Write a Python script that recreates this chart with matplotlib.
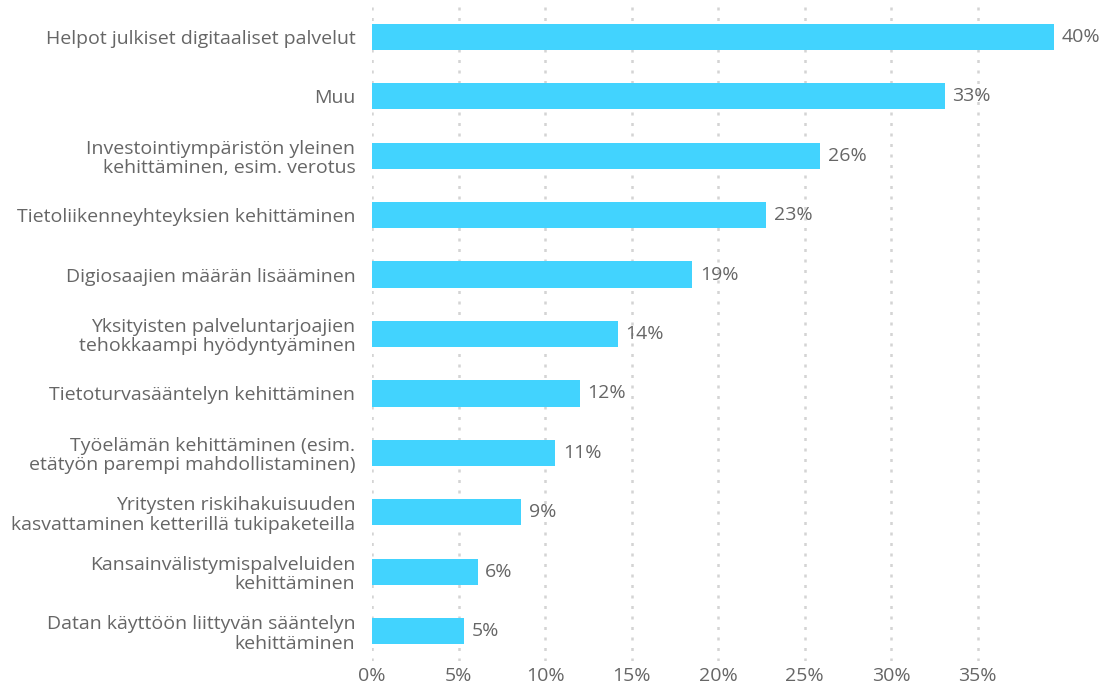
import matplotlib
matplotlib.use("Agg")
import matplotlib.pyplot as plt
from matplotlib.ticker import FuncFormatter

categories = [
    "Helpot julkiset digitaaliset palvelut",
    "Muu",
    "Investointiympäristön yleinen\nkehittäminen, esim. verotus",
    "Tietoliikenneyhteyksien kehittäminen",
    "Digiosaajien määrän lisääminen",
    "Yksityisten palveluntarjoajien\ntehokkaampi hyödyntyäminen",
    "Tietoturvasääntelyn kehittäminen",
    "Työelämän kehittäminen (esim.\netätyön parempi mahdollistaminen)",
    "Yritysten riskihakuisuuden\nkasvattaminen ketterillä tukipaketeilla",
    "Kansainvälistymispalveluiden\nkehittäminen",
    "Datan käyttöön liittyvän sääntelyn\nkehittäminen",
]
values = [39.4, 33.1, 25.9, 22.8, 18.5, 14.2, 12.0, 10.6, 8.6, 6.1, 5.3]
value_labels = ["40%", "33%", "26%", "23%", "19%", "14%", "12%", "11%", "9%", "6%", "5%"]
xticks = [0, 5, 10, 15, 20, 25, 30, 35]

plt.rcParams["font.family"] = ["Open Sans", "DejaVu Sans"]
text_color = "#666666"
bar_color = "#42d3fe"
fs = 14

fig = plt.figure(figsize=(11.03, 6.83), dpi=100)
ax = fig.add_axes([372 / 1103, 22 / 683, (1064 - 372) / 1103, (676 - 22) / 683])

y = list(range(len(categories)))
ax.barh(y, values, height=0.44, color=bar_color, zorder=3)
for yi, v, lab in zip(y, values, value_labels):
    ax.text(v + 0.45, yi, lab, va="center", ha="left", fontsize=fs,
            color=text_color)

ax.set_xlim(0, 40)
ax.set_ylim(len(categories) - 0.5, -0.5)
ax.set_yticks(y)
ax.set_yticklabels(categories, fontsize=fs, color=text_color, linespacing=1.1)
ax.set_xticks(xticks)
ax.xaxis.set_major_formatter(FuncFormatter(lambda v, p: f"{v:.0f}%"))
ax.tick_params(axis="x", labelsize=fs, labelcolor=text_color, length=0, pad=4)
ax.tick_params(axis="y", length=0, pad=12)
ax.grid(axis="x", color="#d4d4d4", linestyle=(0, (1.2, 3)), linewidth=1.8, zorder=0)
for s in ax.spines.values():
    s.set_visible(False)

fig.savefig("out.png", dpi=100)
